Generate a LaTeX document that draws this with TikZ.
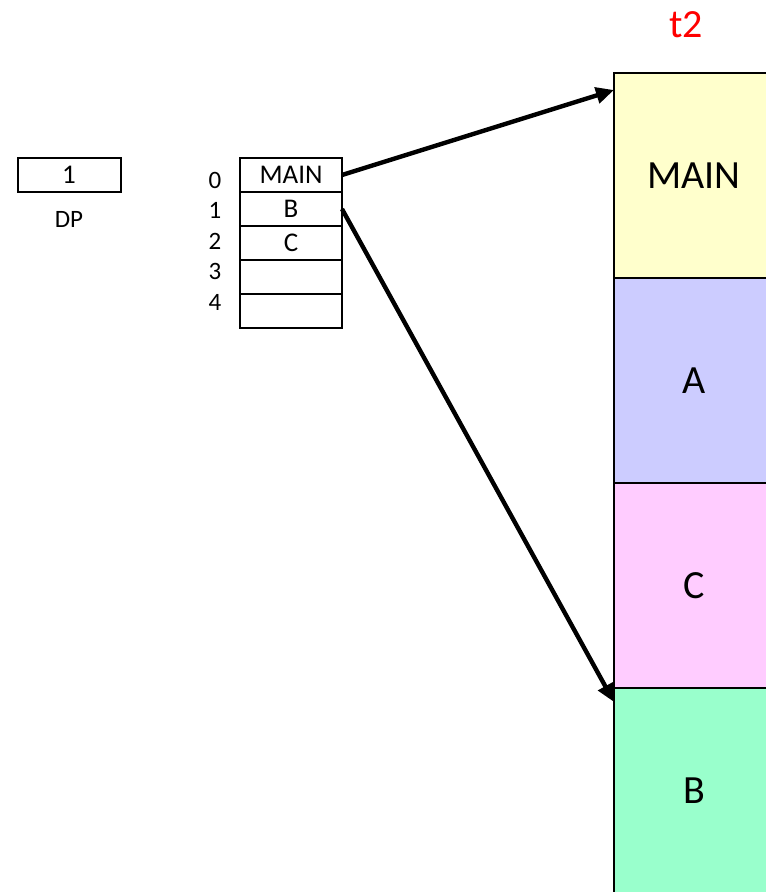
\documentclass[tikz,border=0pt]{standalone}
\usepackage{fontspec}
\setmainfont{Carlito}
\usetikzlibrary{positioning,arrows.meta}

\definecolor{segyellow}{HTML}{FFFFCC}
\definecolor{segblue}{HTML}{CCCCFF}
\definecolor{segpink}{HTML}{FFCCFF}
\definecolor{seggreen}{HTML}{99FFCC}

\begin{document}
\begin{tikzpicture}[x=1pt,y=-1pt,
    cell/.style={draw, line width=2pt, outer sep=0pt, inner sep=0pt,
        minimum width=102pt, minimum height=34pt,
        font=\fontsize{27}{30}\selectfont},
    seg/.style={draw, line width=2.2pt, outer sep=0pt, inner sep=0pt,
        minimum width=160pt, minimum height=205pt, anchor=north west,
        font=\fontsize{40}{44}\selectfont},
    ptr/.style={line width=4.4pt, -{Triangle[length=18pt,width=16pt]}}]

\clip (0,0) rectangle (766,892);

% DP register
\node[cell, minimum width=103pt] (dp) at (69,175) {1};
\node[font=\fontsize{25}{28}\selectfont] (dplabel) at (69,219) {DP};

% the table and its indices
\node[cell] (row0) at (291,175) {MAIN};
\node[cell, below=0pt of row0] (row1) {B};
\node[cell, below=0pt of row1] (row2) {C};
\node[cell, below=0pt of row2] (row3) {};
\node[cell, below=0pt of row3] (row4) {};
\foreach \i in {0,...,4}{
    \node[font=\fontsize{25}{28}\selectfont] (idx\i) at (215,180+30.5*\i) {\i};
}

% the stack at time t2
\node[text=red, font=\fontsize{40}{44}\selectfont] (time) at (686,25) {t2};
\node[seg, fill=segyellow] (segmain) at (614,73) {MAIN};
\node[seg, fill=segblue, below=0pt of segmain] (sega) {A};
\node[seg, fill=segpink, below=0pt of sega] (segc) {C};
\node[seg, fill=seggreen, below=0pt of segc] (segb) {B};

% pointers into the stack
\coordinate (mainend) at (614,90);
\coordinate (bend) at (614,702);
\draw[ptr] (row0.east) -- (mainend);
\draw[ptr] (row1.east) -- (bend);

\end{tikzpicture}
\end{document}
